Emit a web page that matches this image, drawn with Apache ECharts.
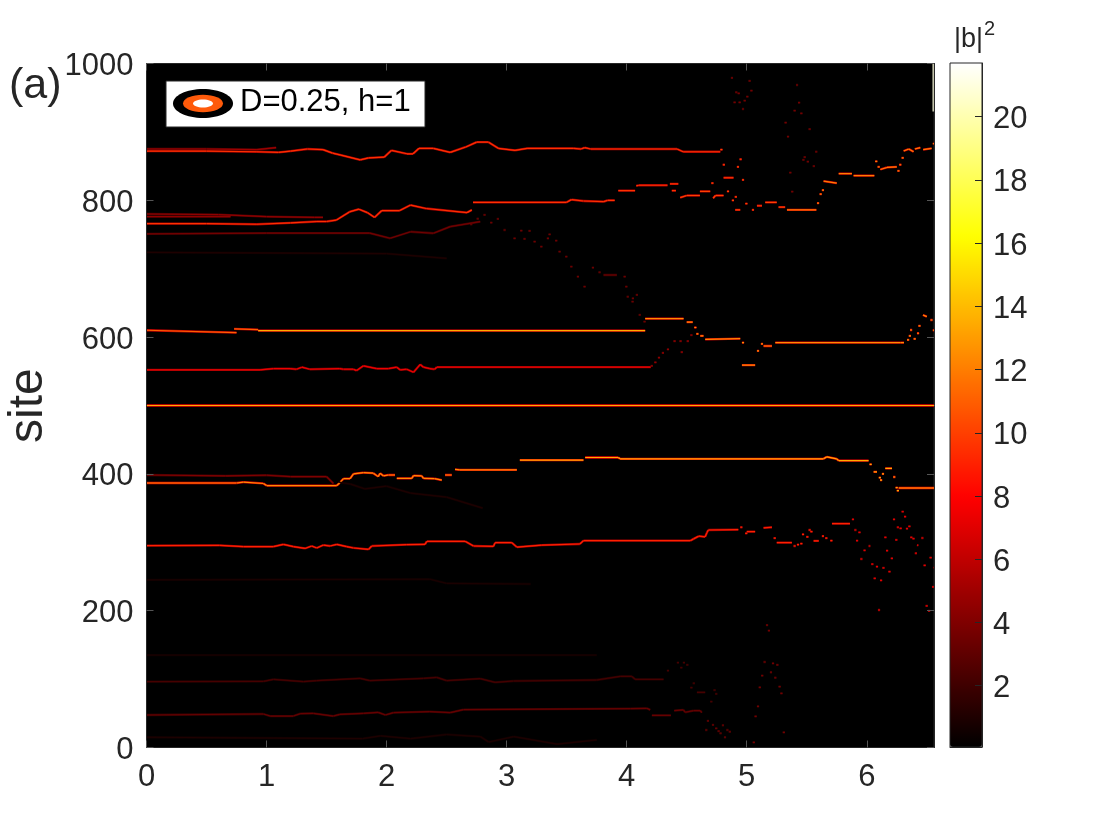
<!DOCTYPE html>
<html><head><meta charset="utf-8">
<style>html,body{margin:0;padding:0;background:#fff}#c{width:1120px;height:840px}</style>
<script src="https://cdn.jsdelivr.net/npm/echarts@6/dist/echarts.min.js"></script>
</head><body><div id="c"></div>
<script>
const xTicks=[0,1,2,3,4,5,6];
const yTicks=[0,200,400,600,800,1000];
const cbTicks=[2,4,6,8,10,12,14,16,18,20];
const tMax=6.56, siteMax=1000, cbMin=0.06, cbMax=21.7;
const _=null;
const topMain=[[0,872],[.5,872],[.92,871],[1.1,870],[1.2,872],[1.34,875],[1.47,874],[1.55,869],[1.62,866],[1.78,859],[1.85,862],[1.98,863],[2.04,873],[2.17,868],[2.22,868],[2.27,876],[2.39,876],[2.53,870],[2.66,878],[2.75,885],[2.85,885],[2.93,876],[3.07,873],[3.17,876],[3.56,876],[3.62,875],[3.65,877],[3.7,875],[4.42,875],[4.47,871],[4.78,871]];
const topStrand=[[0,875],[.5,875],[.92,874],[1.08,877]];
const upperEarly=[[0,766],[.5,766],[.92,765],[1.2,767],[1.42,769],[1.5,769],[1.58,771],[1.69,783],[1.77,787],[1.84,782],[1.9,775],[1.96,785],[2.11,785],[2.2,793],[2.33,788],[2.67,782],[2.71,786],_,[2.72,797],[3.5,797],[3.54,801],[3.64,799],[3.81,798],[3.84,800],[3.9,800],_,[3.93,814],[4.07,814],_,[4.08,821],[4.1,822],[4.34,822],_,[4.36,824],[4.43,824],_,[4.376,814],[4.41,814]];
const upperMid=[[4.446,804],[4.5,807],[4.61,807],_,[4.61,813],[4.696,813],_,[4.72,803],[4.74,807],[4.807,807],_,[4.876,800],_,[4.904,786],[4.946,786],_,[4.988,795],_,[5.043,786],_,[5.085,792],[5.127,792],_,[5.154,797],[5.25,797],_,[5.265,790],[5.32,790],_,[4.78,874],_,[4.8,852],_,[4.807,833],[4.89,833],_,[4.918,849],_,[4.94,860],_,[4.96,830],_,[4.705,825],_,[4.835,813],_,[4.9,805]];
const upperLate=[[5.335,786],[5.58,786],_,[5.585,796],_,[5.607,809],_,[5.626,815],_,[5.64,828],[5.75,825],_,[5.766,839],[5.876,839],_,[5.89,836],[6.063,836],_,[6.07,857],_,[6.09,849],_,[6.113,845],[6.168,848],[6.25,849],_,[6.255,843],_,[6.27,852],_,[6.29,862],_,[6.307,872],[6.35,875],[6.39,871],_,[6.4,875],[6.446,877],_,[6.47,874],[6.54,876],_,[6.55,883],[6.56,883]];
const strand780=[[0,780],[.6,779],[1.0,776],[1.4,775],[1.47,775]];
const strand776=[[0,776],[.7,776]];
const strand751=[[0,751],[1.0,752],[1.86,752],[2.03,744.5],[2.2,754],[2.39,751.8],[2.53,761.5],[2.78,768.8]];
const strand724=[[0,724],[2.0,722],[2.5,715]];
const upperDots=[[4.868,979],_,[4.904,958],_,[4.924,956.4],_,[5.015,974.5],_,[5.03,960.3],_,[4.996,951.6],_,[4.974,945.7],_,[4.932,943.3],_,[4.89,943.3],_,[4.96,933.5],_,[5.41,968.6],_,[5.427,942.8],_,[5.39,931],_,[5.446,927],_,[5.315,913.6],_,[5.335,893],_,[5.515,904],_,[5.354,840.4],_,[5.37,812.7],_,[5.57,871],_,[5.474,863],_,[5.5,856.5],_,[5.55,850],_,[5.463,859]];
const descentDots=[[2.696,765],_,[2.75,773],_,[2.807,778.6],_,[2.863,767.4],_,[2.918,772.7],_,[2.974,756.6],_,[3.057,744.4],_,[3.113,755.7],_,[3.182,755.2],_,[3.14,743.5],_,[3.224,739.6],_,[3.28,732.3],_,[3.349,750.3],_,[3.335,744.4],_,[3.404,741],_,[3.432,725],_,[3.488,717.6],_,[3.53,703],_,[3.585,688.4],_,[3.64,673.8],_,[3.71,701.6],_,[3.765,694.8],_,[3.807,690.8],[3.918,690.8],_,[3.974,688.4],_,[3.988,673.8],_,[4.0,659],_,[4.043,656.7],_,[4.076,661.6],_,[4.04,651.9],_,[4.1,632.4],_,[4.14,622.6]];
const track610a=[[0,610],[.75,606.5],_,[.73,612],[.93,611]];
const track610b=[[.93,609.5],[4.154,609.5]];
const track600=[[4.154,627],[4.474,627],_,[4.5,622],[4.55,622],_,[4.563,614],_,[4.58,604.6],_,[4.613,601.7],[4.64,601.7],_,[4.654,596.8],[4.946,597.8],_,[4.96,592],_,[4.96,559],[5.07,559],_,[5.085,580],_,[5.118,590],_,[5.14,587],[5.21,587],_,[5.238,592],[6.28,592],[6.31,592],_,[6.335,596],_,[6.35,601.7],_,[6.36,610.4],_,[6.418,605.6],_,[6.39,597.3],_,[6.43,616.3],_,[6.468,632.4],[6.5,630],_,[6.53,625],_,[6.55,610]];
const track552=[[0,552],[.946,552],[1.057,554],[1.196,554],[1.25,553],[1.293,556],[1.36,553],[1.61,554],[1.64,553],[1.724,553],[1.75,551],[1.807,558],[1.918,554],[2.015,554],[2.085,556],[2.113,552],[2.168,553],[2.224,548.5],[2.28,560],[2.307,556],[2.36,554],[2.4,553],[2.418,556],[4.2,556]];
const dots580=[[4.2,558],_,[4.23,563],_,[4.26,570],_,[4.293,577],_,[4.335,582],_,[4.39,594],_,[4.44,594],_,[4.45,578],_,[4.5,594],_,[4.53,603]];
const track500=[[0,500],[tMax,500]];
const track387a=[[0,386.7],[.75,386.7],[.807,388],[.974,386],[1.0,383],[1.585,383],[1.61,387],[1.64,393],[1.696,393],[1.724,400],[1.807,402],[1.89,401],[1.93,396],[1.946,401],[1.974,397],[2.015,398.4],[2.07,398.4],_,[2.085,393.5],[2.21,393.5],[2.224,397.4],[2.293,397],[2.307,393.5],[2.4,393],[2.46,391],_,[2.487,398.4],[2.543,398.4],_,[2.57,406.7],[2.61,406],[3.085,406]];
const track387b=[[3.11,420],[3.64,420],_,[3.654,424],[3.93,424],[3.945,422],[5.64,422],[5.668,425],[5.75,422],[5.765,419.4],[6.015,419.4],_,[6.023,414],_,[6.057,403],[6.085,403],_,[6.1,394.5],_,[6.11,391],_,[6.126,400],_,[6.154,408],[6.21,408],_,[6.22,395.5],_,[6.24,380],_,[6.25,375.5],_,[6.265,379.4],[tMax,379.4]];
const strand398=[[0,398.4],[.66,397],[1.0,398],[1.2,396],[1.5,396],[1.557,386]];
const strand380=[[1.6,388],[1.7,385],[1.82,378],[2.0,382],[2.2,372],[2.5,366],[2.8,350]];
const track296a=[[0,295],[.61,295.6],[.807,293.6],[1.057,293.6],[1.14,297],[1.224,293.6],[1.32,291],[1.376,294.6],[1.418,291.7],[1.474,296],[1.53,294.6],[1.585,297],[1.668,293.6],[1.724,291.7],[1.85,289.7],[1.876,294.6],[2.168,296.6],[2.32,297],[2.335,301.4],[2.654,301.4],[2.724,294.6],[2.89,294],[2.904,299.5],[3.043,299.5],[3.085,293],[3.293,296],[3.61,297.5],[3.64,302.4],[4.53,302.4],[4.557,305],[4.6,309],[4.654,308],[4.668,314],[4.68,318],[4.93,318.5],_,[4.946,322],_,[4.987,313],_,[5.0,315.6],[5.07,315.6],_,[5.14,321],[5.21,322],_,[5.224,306],_,[5.25,299.5],[5.376,299.5],_,[5.39,294.6],_,[5.418,296.6],_,[5.446,298],_,[5.46,311.7],_,[5.515,318],_,[5.53,315.6],_,[5.496,307.8],_,[5.557,302],[5.6,302],_,[5.626,309],_,[5.654,306],_,[5.696,302.4],_,[5.71,327.3],[5.86,327.3]];
const dots296=[[5.876,333.6],_,[5.896,318],_,[5.93,314.6],_,[5.91,302.4],_,[5.973,288.3],[5.99,288.3],_,[6.015,294.6],[6.03,294.6],_,[5.946,275.6],_,[6.037,268],_,[6.076,264.4],_,[6.13,262.5],_,[6.18,257],_,[6.057,247.4],_,[6.11,244.4],_,[6.093,201],_,[6.16,287.8],_,[6.2,276.6],_,[6.146,307.3],_,[6.237,303.4],_,[6.218,333.6],_,[6.29,344.8],_,[6.31,337.5],_,[6.25,322],_,[6.273,320.5],_,[6.326,320],_,[6.346,323.4],_,[6.362,307.3],_,[6.38,305.4],_,[6.454,306.3],_,[6.418,296],[6.43,295.6],_,[6.4,284],_,[6.473,266.4],_,[6.523,277.6],_,[6.557,263],_,[6.543,234.7],_,[6.49,207],_,[6.51,199.6]];
const low49=[[0,47.5],[.974,49],[1.03,46],[1.224,46],[1.28,49.4],[1.39,50],[1.557,46],[1.61,48.5],[1.807,50],[1.93,51.4],[1.99,47.5],[2.057,51],[2.36,52.4],[2.53,51],[2.64,55.3],[4.03,56.8],[4.168,57.3],[4.196,55],_,[4.21,47],[4.368,47],_,[4.396,54],[4.473,55],[4.487,51.5],[4.557,54],[4.612,54],[4.626,51],_,[4.668,38.8],_,[4.654,25.6],_,[4.71,33],_,[4.737,28],_,[4.757,24],_,[4.773,20.8],_,[4.81,15],_,[4.793,32.5],_,[4.83,25.6],_,[4.85,23]];
const low97=[[0,96.2],[.974,96.7],[1.057,99.6],[1.307,96.2],[1.418,97.7],[1.78,101],[1.86,97.7],[2.307,101],[2.418,102.6],[2.5,97.7],[2.78,100.6],[2.904,95.3],[3.057,97.2],[3.75,98.7],[3.946,104],[4.043,104],[4.07,99.7],[4.307,99.7],_,[4.335,112.4],_,[4.418,124],_,[4.468,124],_,[4.446,116.8],_,[4.496,120.7],_,[4.53,87.5],_,[4.55,93.9],_,[4.585,80.7],[4.654,80.7],_,[4.696,67],_,[4.723,84],_,[4.737,78.3]];
const faint135=[[0,135],[3.75,135]];
const faint245=[[0,245],[2.36,246],[2.5,240],[3.2,239]];
const faint15=[[0,15],[1.8,13],[1.95,17],[2.2,13],[2.5,19],[2.78,16],[2.85,8],[3.06,16],[3.42,5],[3.75,11]];
const lowDots=[[5.16,179],_,[5.176,171],_,[5.14,125],_,[5.21,123],_,[5.246,120.7],_,[5.12,105],_,[5.193,110],_,[5.229,102],_,[5.1,88],_,[5.265,89],_,[5.28,79],_,[5.085,60],_,[5.065,45.6],_,[5.3,22],_,[5.05,7.6]];
const edge=[[6.553,1000],[6.553,930]];

const tracks=[[topMain,9.5],[topStrand,5],[upperEarly,9.5],[upperMid,10],[upperLate,12],[strand780,4.5],[strand776,4.5],[strand751,3.6],[strand724,1],[upperDots,3.6],[descentDots,3.4],[track610a,11],[track610b,13.5],[track600,12.5],[track552,7.5],[dots580,4.5],[track500,13.5],[track387a,12.5],[track387b,13.5],[strand398,4],[strand380,1],[track296a,9],[dots296,7],[low49,3.2],[low97,2.2],[faint135,.8],[faint245,.9],[faint15,1],[lowDots,3.6],[edge,21]];

function rows(scale,maxV){
  const out=[];
  tracks.forEach(([pts,v])=>{
    if(v>maxV) return;
    for(let i=0;i<pts.length;i++){
      const p=pts[i]; if(!p) continue;
      const n=pts[i+1], prev=pts[i-1];
      if(n) out.push([p[0],p[1],n[0],n[1],v*scale]);
      else if(!prev) out.push([p[0],p[1],p[0]+0.018,p[1],v*scale]);
    }
  });
  return out;
}
function hot(n){
  const c=[];
  for(let i=0;i<n;i++){
    const f=i/(n-1);
    const r=Math.min(1,f/0.365), g=Math.max(0,Math.min(1,(f-0.365)/0.381)), b=Math.max(0,(f-0.746)/0.254);
    c.push(`rgb(${Math.round(r*255)},${Math.round(g*255)},${Math.round(b*255)})`);
  }
  return c;
}
const ink='#262626', font='"Liberation Sans",Arial,sans-serif';
function segSeries(scale,width,maxV){
  return {type:'custom',coordinateSystem:'cartesian2d',xAxisIndex:0,yAxisIndex:0,clip:true,silent:true,animation:false,
    encode:{x:[0,2],y:[1,3]},data:rows(scale,maxV),
    renderItem(p,api){
      const a=api.coord([api.value(0),api.value(1)]), b=api.coord([api.value(2),api.value(3)]);
      return {type:'line',shape:{x1:a[0],y1:a[1],x2:b[0],y2:b[1]},style:{stroke:api.visual('color'),lineWidth:width,fill:null,lineCap:'butt'}};
    }};
}
function inner(values,color){return {show:true,inside:true,length:7,customValues:values,lineStyle:{color:color,width:1}};}
const line={show:true,onZero:false,lineStyle:{color:ink}};
const plain=v=>String(v);
const nudged=v=>`{a|${v}}`;
const nudgeRich={a:{color:ink,fontSize:31,fontFamily:font,padding:[6,0,0,0],lineHeight:36}};
const chart=echarts.init(document.getElementById('c'),null,{renderer:'canvas'});
chart.setOption({
  animation:false,backgroundColor:'#fff',
  grid:[
    {left:146.5,top:63.5,width:787.5,height:684,show:true,backgroundColor:'#000',borderColor:ink,borderWidth:1},
    {left:950,top:63,width:32,height:684,show:true,backgroundColor:'transparent',borderColor:ink,borderWidth:1,z:10}
  ],
  xAxis:[
    {type:'value',gridIndex:0,min:0,max:tMax,position:'bottom',z:5,splitLine:{show:false},axisLine:line,axisTick:inner(xTicks,'#555'),axisLabel:{customValues:xTicks,formatter:plain,color:ink,fontSize:31,fontFamily:font,margin:14}},
    {type:'value',gridIndex:0,min:0,max:tMax,position:'top',z:5,splitLine:{show:false},axisLine:line,axisTick:inner(xTicks,'#555'),axisLabel:{show:false}},
    {type:'value',gridIndex:1,min:0,max:1,position:'bottom',z:10,splitLine:{show:false},axisLine:line,axisTick:{show:false},axisLabel:{show:false}}
  ],
  yAxis:[
    {type:'value',gridIndex:0,min:0,max:siteMax,position:'left',z:5,splitLine:{show:false},axisLine:line,axisTick:inner(yTicks,'#555'),axisLabel:{customValues:yTicks,formatter:nudged,rich:nudgeRich,color:ink,fontSize:31,fontFamily:font,margin:13}},
    {type:'value',gridIndex:0,min:0,max:siteMax,position:'right',z:5,splitLine:{show:false},axisLine:line,axisTick:inner(yTicks,'#555'),axisLabel:{show:false}},
    {type:'value',gridIndex:1,min:cbMin,max:cbMax,position:'right',z:10,splitLine:{show:false},axisLine:line,axisTick:inner(cbTicks,ink),axisLabel:{customValues:cbTicks,formatter:nudged,rich:nudgeRich,color:ink,fontSize:31,fontFamily:font,margin:11}}
  ],
  visualMap:{type:'continuous',min:cbMin,max:cbMax,dimension:4,seriesIndex:[0,1],left:950,top:63,itemWidth:32,itemHeight:684,calculable:false,realtime:false,hoverLink:false,text:null,showLabel:false,inRange:{color:hot(64)},textStyle:{color:'transparent',fontSize:1},padding:0},
  series:[segSeries(0.55,2.3,20),segSeries(1,1.2,99)],
  graphic:[
    {type:'text',z:100,left:9,top:65,style:{text:'(a)',fontSize:43,fontFamily:font,fill:ink}},
    {type:'text',z:100,rotation:Math.PI/2,x:5,y:443,style:{text:'site',fontSize:48,fontFamily:font,fill:ink}},
    {type:'rect',z:100,shape:{x:166,y:81,width:259,height:46},style:{fill:'#fff',stroke:ink,lineWidth:1}},
    {type:'ellipse',z:101,shape:{cx:203,cy:103.5,rx:30,ry:14.5},style:{fill:'#000'}},
    {type:'ellipse',z:102,shape:{cx:203,cy:103.5,rx:20,ry:8.7},style:{fill:'#ff5a0a'}},
    {type:'ellipse',z:103,shape:{cx:203,cy:103.5,rx:10,ry:4},style:{fill:'#fff'}},
    {type:'text',z:100,left:240,top:87,style:{text:'D=0.25, h=1',fontSize:31,fontFamily:font,fill:'#000'}},
    {type:'text',z:100,left:954,top:19,style:{text:'{m||b|}{s|2}',rich:{m:{fontSize:27,fontFamily:font,fill:ink,verticalAlign:'bottom',lineHeight:34},s:{fontSize:20,fontFamily:font,fill:ink,verticalAlign:'top',lineHeight:34,padding:[0,0,0,1]}}}}
  ]
});
</script></body></html>
